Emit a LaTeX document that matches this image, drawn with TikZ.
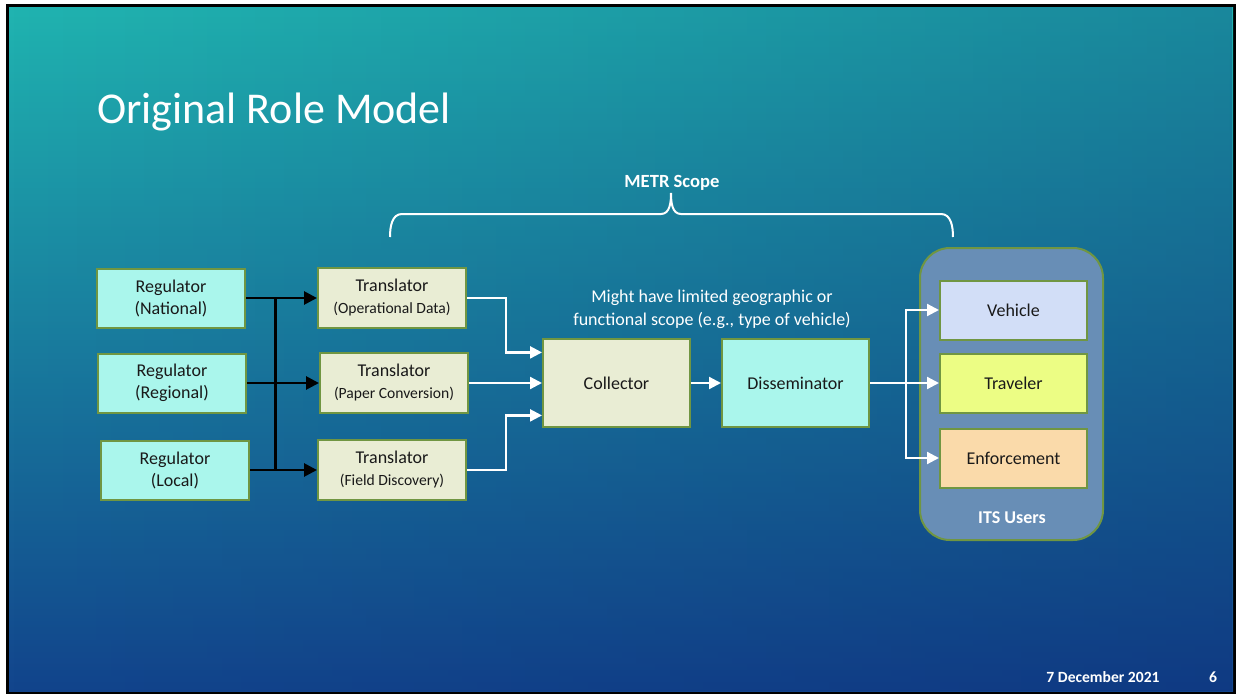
\documentclass[tikz,border=0pt]{standalone}
\usepackage{fontspec}
\setmainfont{Carlito}
\usetikzlibrary{arrows.meta,calc,fadings}
\definecolor{bgtop}{RGB}{32,180,176}
\definecolor{bgmid}{RGB}{24,124,160}
\definecolor{bgbot}{RGB}{18,68,140}
\definecolor{bgdark}{RGB}{10,34,110}
\definecolor{cyanfill}{RGB}{170,246,236}
\definecolor{beigefill}{RGB}{233,237,212}
\definecolor{vehfill}{RGB}{210,222,247}
\definecolor{travfill}{RGB}{236,253,132}
\definecolor{enffill}{RGB}{250,218,170}
\definecolor{itsfill}{RGB}{104,142,182}
\definecolor{boxgreen}{RGB}{112,150,66}
\definecolor{txt}{RGB}{25,25,25}
\newcommand{\trsub}{\fontsize{7.8}{9}\selectfont}
\tikzset{
  box/.style={draw=boxgreen, line width=1pt, inner sep=0pt, align=center, text=txt,
    font=\fontsize{9}{11}\selectfont},
  regbox/.style={box, fill=cyanfill, minimum width=74pt, minimum height=29.5pt},
  trbox/.style={box, fill=beigefill, minimum width=74pt, minimum height=30pt},
  bigbox/.style={box, minimum width=73.5pt, minimum height=44pt},
  userbox/.style={box, minimum width=73.5pt, minimum height=29.5pt},
  wtext/.style={text=white, inner sep=0pt, align=center},
  barrow/.style={draw=black, line width=1.4pt, -{Triangle[length=6.5pt,width=6.5pt]}},
  bline/.style={draw=black, line width=1.4pt},
  warrow/.style={draw=white, line width=1.1pt, -{Triangle[length=6pt,width=6pt]}},
  wline/.style={draw=white, line width=1.1pt},
}
\begin{document}
\begin{tikzpicture}[x=0.5pt,y=-0.5pt]
\useasboundingbox (0,0) rectangle (1239,696);
% background
\fill[white] (0,0) rectangle (1239,696);
\fill[black] (6,4) rectangle (1236,694);
\shade[top color=bgtop, middle color=bgmid, bottom color=bgbot] (9,7) rectangle (1233,691);
\fill[bgdark, opacity=0.3, path fading=west] (9,7) rectangle (1233,691);

% title
\node[wtext, anchor=base west, font=\fontsize{22}{26}\selectfont] (title) at (97,123) {Original Role Model};

% regulators
\node[regbox] (regN) at (171,298) {Regulator\\(National)};
\node[regbox] (regR) at (172,383) {Regulator\\(Regional)};
\node[regbox] (regL) at (175,470) {Regulator\\(Local)};

% translators
\node[trbox] (trO) at (392,298) {Translator\\{\trsub (Operational Data)}};
\node[trbox] (trP) at (394,383) {Translator\\{\trsub (Paper Conversion)}};
\node[trbox] (trF) at (392,470) {Translator\\{\trsub (Field Discovery)}};

% collector & disseminator
\node[bigbox, fill=beigefill] (col) at (616.5,383) {Collector};
\node[bigbox, fill=cyanfill] (dis) at (795.5,383) {Disseminator};

% ITS users container
\node[draw=boxgreen, line width=1pt, fill=itsfill, rounded corners=15pt,
      minimum width=91.5pt, minimum height=146pt, inner sep=0pt] (its) at (1011.5,394) {};
\node[userbox, fill=vehfill] (veh) at (1013.5,310) {Vehicle};
\node[userbox, fill=travfill] (trav) at (1013.5,383) {Traveler};
\node[userbox, fill=enffill] (enf) at (1013.5,458) {Enforcement};
\node[wtext, font=\fontsize{9}{11}\selectfont\bfseries] (itslbl) at (1012,518) {ITS Users};

% annotation
\node[wtext, font=\fontsize{9}{11.5}\selectfont] (note) at (712,309)
  {Might have limited geographic or\\functional scope (e.g., type of vehicle)};

% brace
\coordinate (bL) at (390,237);
\coordinate (bR) at (953,237);
\coordinate (bT) at (671,193);
\draw[white, line width=1pt]
  (bL) to[out=90,in=180] (402,214) -- (661,214) to[out=0,in=-90] (bT)
  to[out=-90,in=180] (681,214) -- (941,214) to[out=0,in=90] (bR);
\node[wtext, font=\fontsize{9.3}{11}\selectfont\bfseries] (metr) at (672,183) {METR Scope};

% black connectors
\coordinate (bus) at ($(regN.east)!0.41!(trO.west)$);
\draw[bline] (bus) -- (bus |- regL.east);
\draw[barrow] (regN.east) -- (trO.west);
\draw[barrow] (regR.east) -- (trP.west);
\draw[barrow] (regL.east) -- (trF.west);

% white connectors
\draw[warrow] (trO.east) -- ++(39,0) |- ($(col.north west)!0.16!(col.south west)$);
\draw[warrow] (trP.east) -- (col.west);
\draw[warrow] (trF.east) -- ++(39,0) |- ($(col.north west)!0.86!(col.south west)$);
\draw[warrow] (col.east) -- (dis.west);
\draw[wline] (dis.east) -- ++(36,0) coordinate (split);
\draw[warrow] (split) |- (veh.west);
\draw[warrow] (split) -- (trav.west);
\draw[warrow] (split) |- (enf.west);

% footer
\node[wtext, anchor=east, font=\fontsize{7.8}{9}\selectfont\bfseries] (date) at (1160,677) {7 December 2021};
\node[wtext, font=\fontsize{7.8}{9}\selectfont\bfseries] (pg) at (1213,677) {6};
\end{tikzpicture}
\end{document}
